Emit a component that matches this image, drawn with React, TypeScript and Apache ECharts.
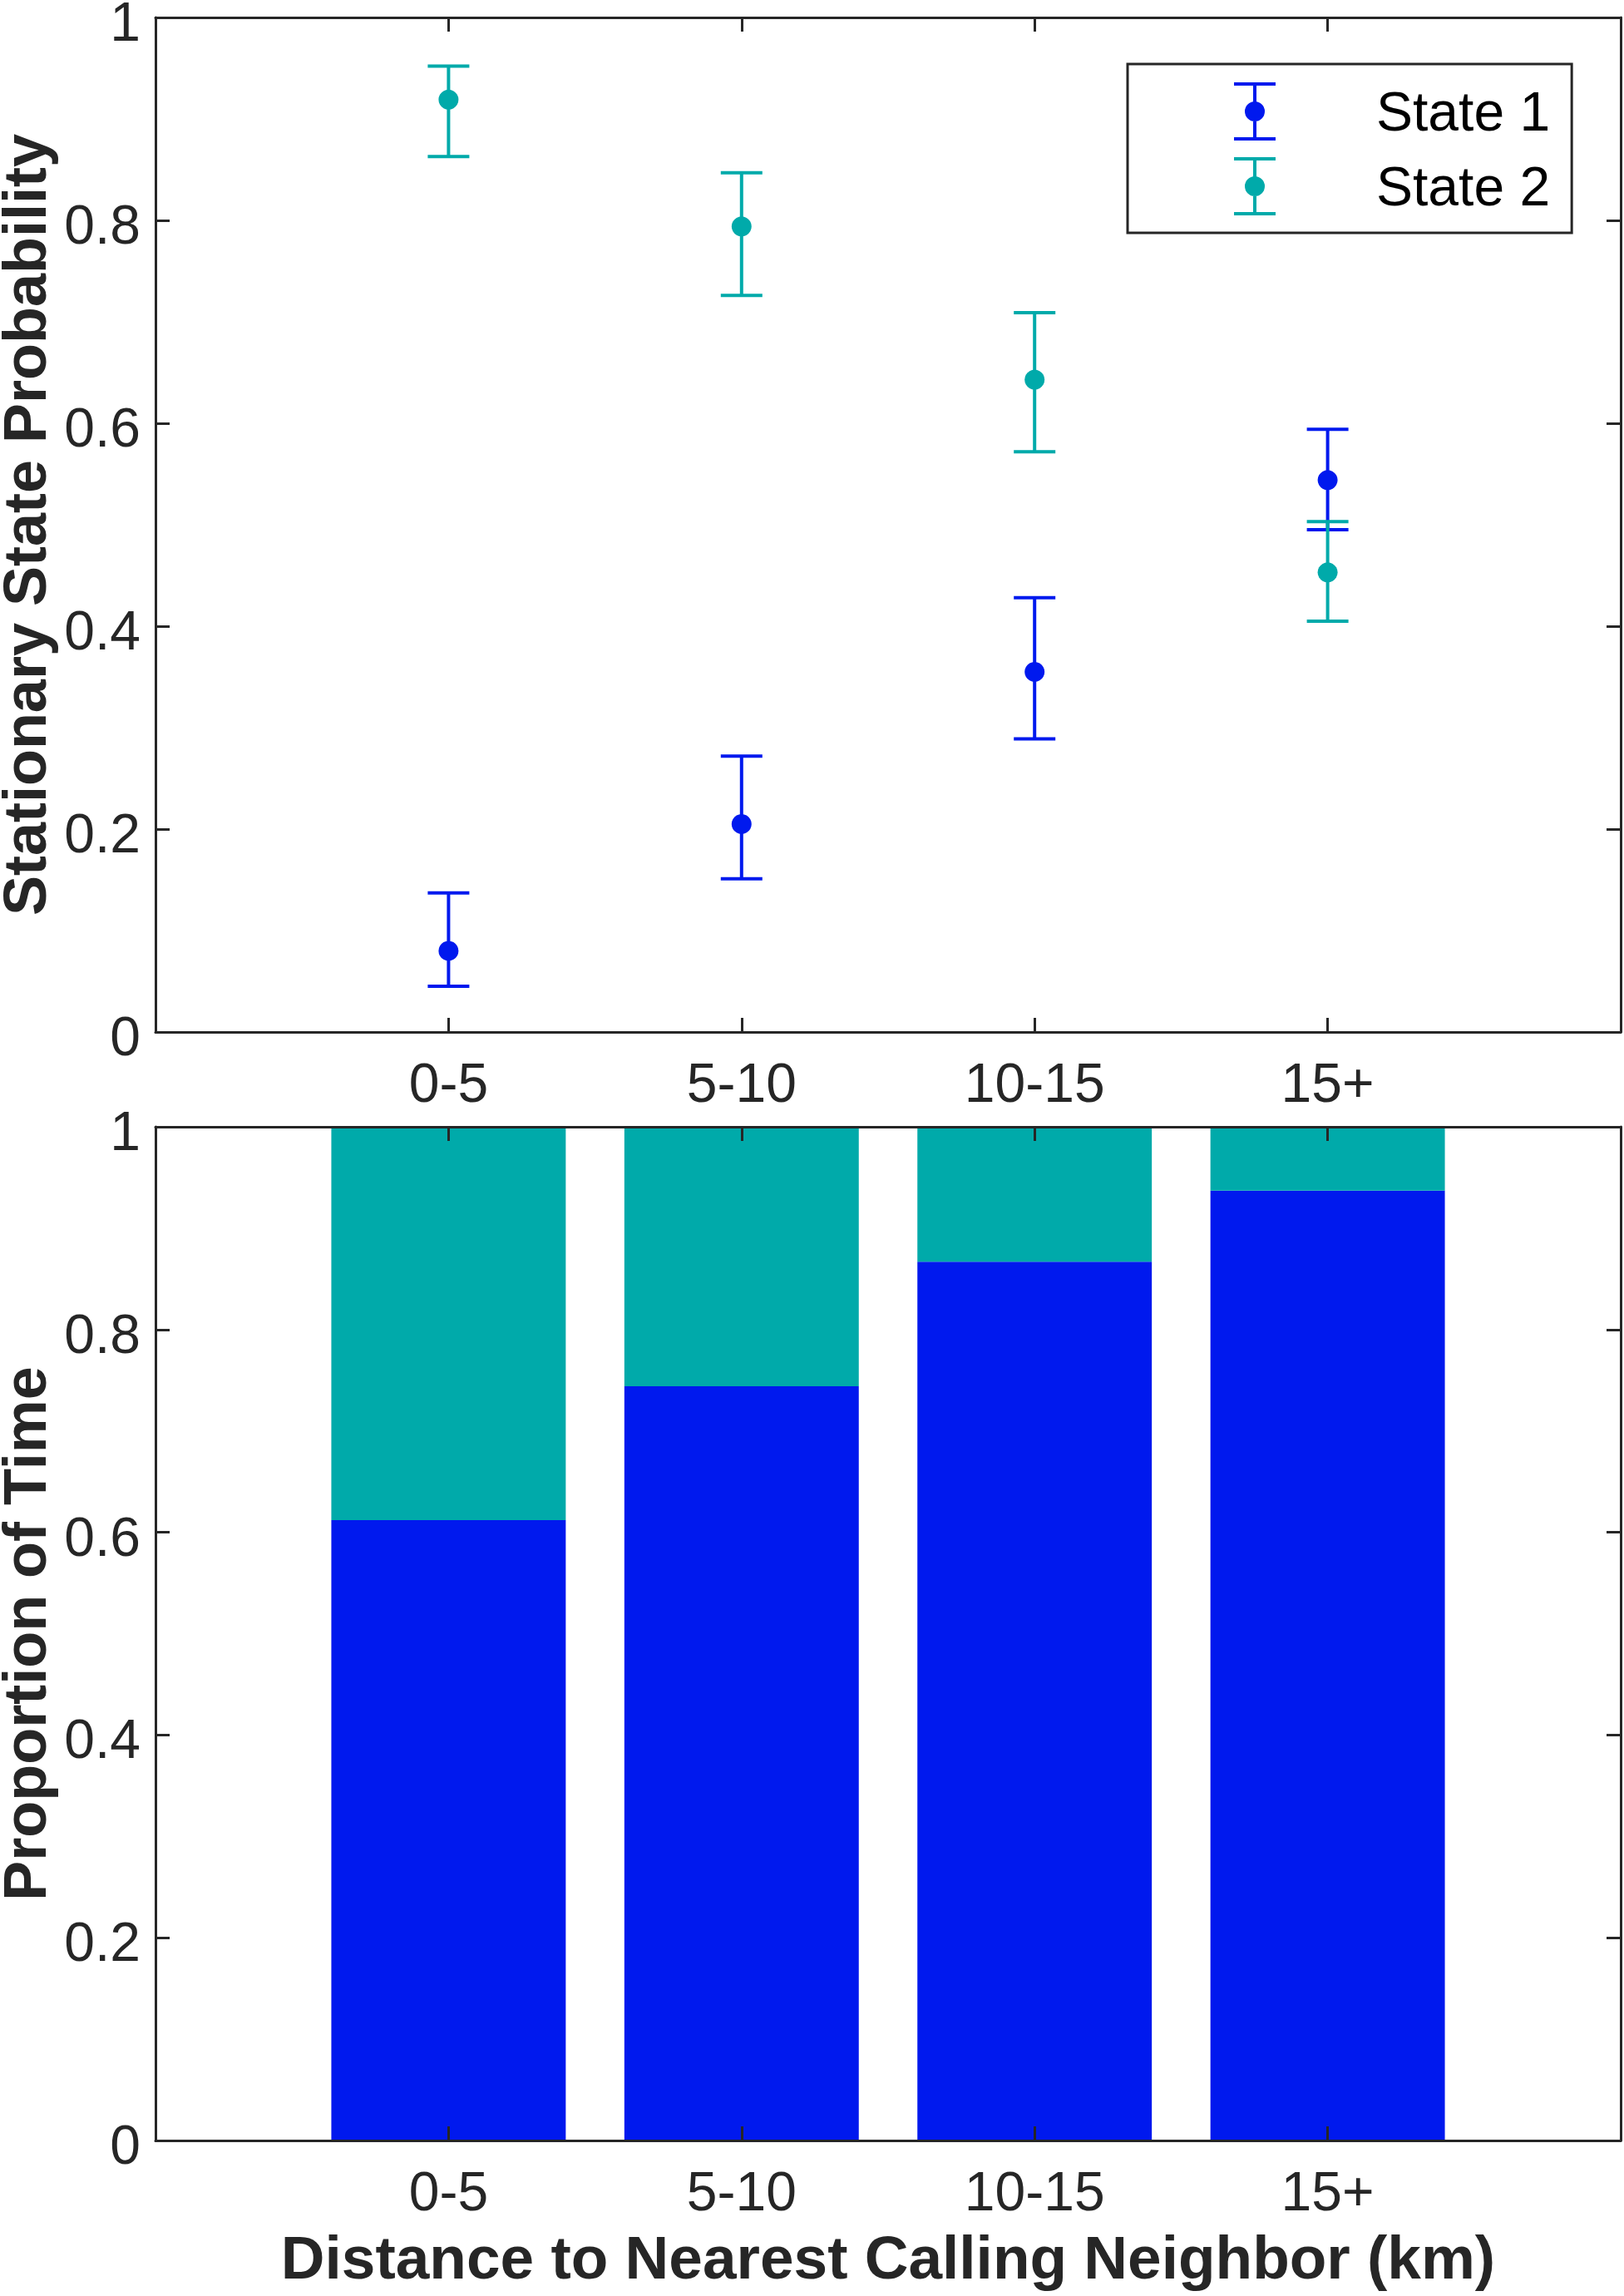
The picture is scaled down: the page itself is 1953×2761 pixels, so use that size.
import React, { useEffect, useRef } from "react";
import * as echarts from "echarts";

const categories = ["0-5", "5-10", "10-15", "15+"];
const axisSlots = ["", ...categories, ""];

const state1Mean = [0.08, 0.205, 0.355, 0.544];
const state1Lower = [0.045, 0.151, 0.289, 0.495];
const state1Upper = [0.137, 0.272, 0.428, 0.594];

const state2Mean = [0.919, 0.794, 0.643, 0.453];
const state2Lower = [0.863, 0.726, 0.572, 0.405];
const state2Upper = [0.952, 0.847, 0.709, 0.503];

const timeState1 = [0.612, 0.744, 0.867, 0.937];
const timeState2 = [0.388, 0.256, 0.133, 0.063];

const seriesNames = ["State 1", "State 2"];
const topYTitle = "Stationary State Probability";
const bottomYTitle = "Proportion of Time";
const xTitle = "Distance to Nearest Calling Neighbor (km)";

const BLUE = "#0019EE";
const TEAL = "#00AAAA";
const AXIS = "#262626";
const FONT = "'Liberation Sans', Arial, Helvetica, sans-serif";

const W = 1953;
const H = 2761;
const GRID_LEFT = 187;
const GRID_WIDTH = 1762;

const legendIcon =
  "path://M0 0H50V4H0Z M23 0H27V70H23Z M0 66H50V70H0Z M13 35A12 12 0 1 1 37 35A12 12 0 1 1 13 35Z";

function errorBarRenderer(color: string) {
  return (params: any, api: any) => {
    const x = api.value(0);
    const c = api.coord([x, api.value(1)]);
    const lo = api.coord([x, api.value(2)]);
    const hi = api.coord([x, api.value(3)]);
    const hw = 25;
    const style = { stroke: color, lineWidth: 4, fill: null };
    return {
      type: "group",
      children: [
        { type: "line", shape: { x1: c[0], y1: lo[1], x2: c[0], y2: hi[1] }, style },
        { type: "line", shape: { x1: c[0] - hw, y1: hi[1], x2: c[0] + hw, y2: hi[1] }, style },
        { type: "line", shape: { x1: c[0] - hw, y1: lo[1], x2: c[0] + hw, y2: lo[1] }, style },
        { type: "circle", shape: { cx: c[0], cy: c[1], r: 12 }, style: { fill: color, stroke: null } },
      ],
    };
  };
}

const lineStyle = { color: AXIS, width: 3 };

function xAxisDef(gridIndex: number, position: "top" | "bottom", showLabel: boolean, name?: string) {
  return {
    gridIndex,
    type: "category",
    data: axisSlots,
    boundaryGap: false,
    position,
    z: 10,
    axisLine: { show: true, onZero: false, lineStyle },
    axisTick: { show: true, inside: true, length: 17, lineStyle, interval: 0 },
    splitLine: { show: false },
    axisLabel: {
      show: showLabel,
      interval: 0,
      margin: 28,
      fontSize: 66,
      color: AXIS,
      fontFamily: FONT,
    },
    name: name || "",
    nameLocation: "middle",
    nameGap: 104,
    nameTextStyle: { fontSize: 73, fontWeight: "bold", color: AXIS, fontFamily: FONT },
  };
}

function yAxisDef(gridIndex: number, position: "left" | "right", showLabel: boolean, name?: string) {
  return {
    gridIndex,
    type: "value",
    position,
    min: 0,
    max: 1,
    interval: 0.2,
    z: 10,
    axisLine: { show: true, onZero: false, lineStyle },
    axisTick: { show: true, inside: true, length: 17, lineStyle },
    splitLine: { show: false },
    axisLabel: {
      show: showLabel,
      margin: 18,
      fontSize: 66,
      color: AXIS,
      fontFamily: FONT,
      verticalAlign: "top",
      lineHeight: 10,
    },
    name: name || "",
    nameLocation: "middle",
    nameGap: 120,
    nameTextStyle: { fontSize: 72, fontWeight: "bold", color: AXIS, fontFamily: FONT, lineHeight: 56 },
  };
}

export default function App() {
  const ref = useRef<HTMLDivElement>(null);

  useEffect(() => {
    document.body.style.margin = "0";
    if (!ref.current) return;
    const chart = echarts.init(ref.current, undefined, { renderer: "svg" });

    const option: any = {
      animation: false,
      backgroundColor: "#ffffff",
      textStyle: { fontFamily: FONT },
      grid: [
        { left: GRID_LEFT, top: 21, width: GRID_WIDTH, height: 1220, containLabel: false, outerBoundsMode: "none" },
        { left: GRID_LEFT, top: 1355, width: GRID_WIDTH, height: 1219, containLabel: false, outerBoundsMode: "none" },
      ],
      legend: {
        orient: "vertical",
        left: 1356,
        top: 77,
        padding: [22, 26, 21, 128],
        itemWidth: 50,
        itemHeight: 70,
        itemGap: 20,
        borderColor: AXIS,
        borderWidth: 3,
        backgroundColor: "#ffffff",
        selectedMode: false,
        textStyle: { fontSize: 66, color: "#000000", fontFamily: FONT, padding: [0, 0, 0, 116] },
        data: [
          { name: seriesNames[0], icon: legendIcon },
          { name: seriesNames[1], icon: legendIcon },
        ],
        z: 20,
      },
      xAxis: [
        xAxisDef(0, "bottom", true),
        xAxisDef(0, "top", false),
        xAxisDef(1, "bottom", true, xTitle),
        xAxisDef(1, "top", false),
      ],
      yAxis: [
        yAxisDef(0, "left", true, topYTitle),
        yAxisDef(0, "right", false),
        yAxisDef(1, "left", true, bottomYTitle),
        yAxisDef(1, "right", false),
      ],
      series: [
        {
          name: seriesNames[0],
          type: "custom",
          xAxisIndex: 0,
          yAxisIndex: 0,
          itemStyle: { color: BLUE },
          renderItem: errorBarRenderer(BLUE),
          encode: { x: 0, y: [1, 2, 3] },
          data: state1Mean.map((m, i) => [i + 1, m, state1Lower[i], state1Upper[i]]),
          z: 3,
        },
        {
          name: seriesNames[1],
          type: "custom",
          xAxisIndex: 0,
          yAxisIndex: 0,
          itemStyle: { color: TEAL },
          renderItem: errorBarRenderer(TEAL),
          encode: { x: 0, y: [1, 2, 3] },
          data: state2Mean.map((m, i) => [i + 1, m, state2Lower[i], state2Upper[i]]),
          z: 3,
        },
        {
          name: "Time in State 1",
          type: "bar",
          xAxisIndex: 2,
          yAxisIndex: 2,
          stack: "time",
          barWidth: "80%",
          itemStyle: { color: BLUE },
          data: timeState1.map((v, i) => [i + 1, v]),
        },
        {
          name: "Time in State 2",
          type: "bar",
          xAxisIndex: 2,
          yAxisIndex: 2,
          stack: "time",
          barWidth: "80%",
          itemStyle: { color: TEAL },
          data: timeState2.map((v, i) => [i + 1, v]),
        },
      ],
    };

    chart.setOption(option);
    return () => chart.dispose();
  }, []);

  return <div ref={ref} style={{ width: W, height: H }} />;
}
